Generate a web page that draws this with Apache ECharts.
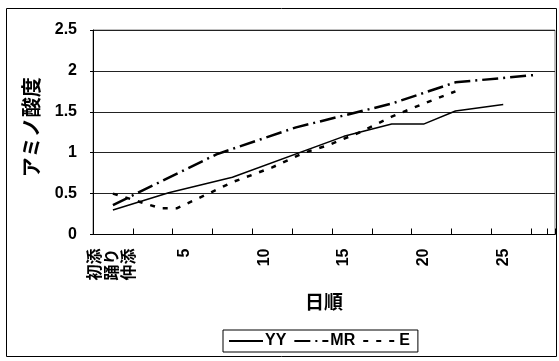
<!DOCTYPE html>
<html>
<head>
<meta charset="utf-8">
<script src="https://cdn.jsdelivr.net/npm/echarts@6/dist/echarts.min.js"></script>
<style>
  html, body { margin: 0; padding: 0; background: #fff; }
  #chart { width: 559px; height: 361px; }
</style>
</head>
<body>
<div id="chart"></div>
<script>
// Category slots along the x axis (half-day steps) and the labelled slots
const slotCount = 58;
const labelSlots = [2, 11, 21, 31, 41, 51];
const labelTexts = ['初添\n踊り\n仲添', '5', '10', '15', '20', '25'];

// Amino acidity per series: slot index of each measurement and its value
const yySlots = [2, 9, 17, 31, 37, 41, 45, 51];
const yyValues = [0.30, 0.51, 0.70, 1.20, 1.35, 1.35, 1.51, 1.59];

const mrSlots = [2, 15, 25, 37, 45, 55];
const mrValues = [0.36, 0.98, 1.31, 1.60, 1.86, 1.95];

const eSlots = [2, 8, 10, 14, 17, 22, 26, 29, 33, 37, 41, 45];
const eValues = [0.50, 0.32, 0.32, 0.50, 0.64, 0.82, 1.00, 1.09, 1.25, 1.44, 1.60, 1.75];

const yTicks = { min: 0, max: 2.5, step: 0.5 };

const categories = Array.from({ length: slotCount }, () => '');
labelSlots.forEach((s, i) => { categories[s] = labelTexts[i]; });

const pairs = (slots, vals) => slots.map((s, i) => [s, vals[i]]);

const FONT = '"Liberation Sans", "Noto Sans CJK JP", sans-serif';

const chart = echarts.init(document.getElementById('chart'));
chart.setOption({
  animation: false,
  backgroundColor: '#fff',
  graphic: [{
    type: 'rect',
    shape: { x: 6.5, y: 8.5, width: 550, height: 348 },
    style: { fill: 'none', stroke: '#000', lineWidth: 1 },
    z: -1
  }],
  grid: {
    left: 93, right: 4, top: 30, bottom: 126.5,
    show: true, borderColor: '#808080', borderWidth: 1
  },
  legend: {
    left: 223, top: 330,
    padding: [3, 8, 3, 5],
    borderColor: '#000', borderWidth: 1,
    itemWidth: 34, itemHeight: 12, itemGap: 7,
    itemStyle: { opacity: 0 },
    textStyle: { fontFamily: FONT, fontWeight: 'bold', fontSize: 16, color: '#000', padding: [0, 0, 0, -3] },
    data: ['YY', 'MR', 'E']
  },
  xAxis: {
    type: 'category',
    data: categories,
    boundaryGap: true,
    name: '日順',
    nameLocation: 'middle',
    nameGap: 60,
    nameTextStyle: { fontFamily: FONT, fontWeight: 'bold', fontSize: 19, color: '#000' },
    axisLine: { lineStyle: { color: '#000', width: 1 } },
    axisTick: { show: true, inside: true, length: 6, interval: 4, lineStyle: { color: '#000' } },
    axisLabel: {
      interval: 0, rotate: 90, margin: 14,
      fontFamily: FONT, fontWeight: 'bold', fontSize: 16, lineHeight: 17, color: '#000'
    },
    splitLine: { show: false }
  },
  yAxis: {
    type: 'value',
    min: yTicks.min, max: yTicks.max, interval: yTicks.step,
    name: 'アミノ酸度',
    nameLocation: 'middle',
    nameRotate: 90,
    nameGap: 49,
    nameTextStyle: { fontFamily: FONT, fontWeight: 'bold', fontSize: 20, color: '#000', padding: [0, 0, 0, 10] },
    axisLine: { show: true, lineStyle: { color: '#000', width: 1 } },
    axisTick: { show: true, length: 3, lineStyle: { color: '#000' } },
    axisLabel: { margin: 16, fontFamily: FONT, fontWeight: 'bold', fontSize: 16, color: '#000' },
    splitLine: { show: true, lineStyle: { color: '#222', width: 1 } }
  },
  series: [
    {
      name: 'YY', type: 'line', symbol: 'none',
      data: pairs(yySlots, yyValues),
      lineStyle: { color: '#000', width: 1.5, type: 'solid' },
      itemStyle: { color: '#000' }
    },
    {
      name: 'MR', type: 'line', symbol: 'none',
      data: pairs(mrSlots, mrValues),
      lineStyle: { color: '#000', width: 2.5, type: [16, 5, 2, 5] },
      itemStyle: { color: '#000' }
    },
    {
      name: 'E', type: 'line', symbol: 'none',
      data: pairs(eSlots, eValues),
      lineStyle: { color: '#000', width: 2.5, type: [5, 8] },
      itemStyle: { color: '#000' }
    }
  ]
});
</script>
</body>
</html>
